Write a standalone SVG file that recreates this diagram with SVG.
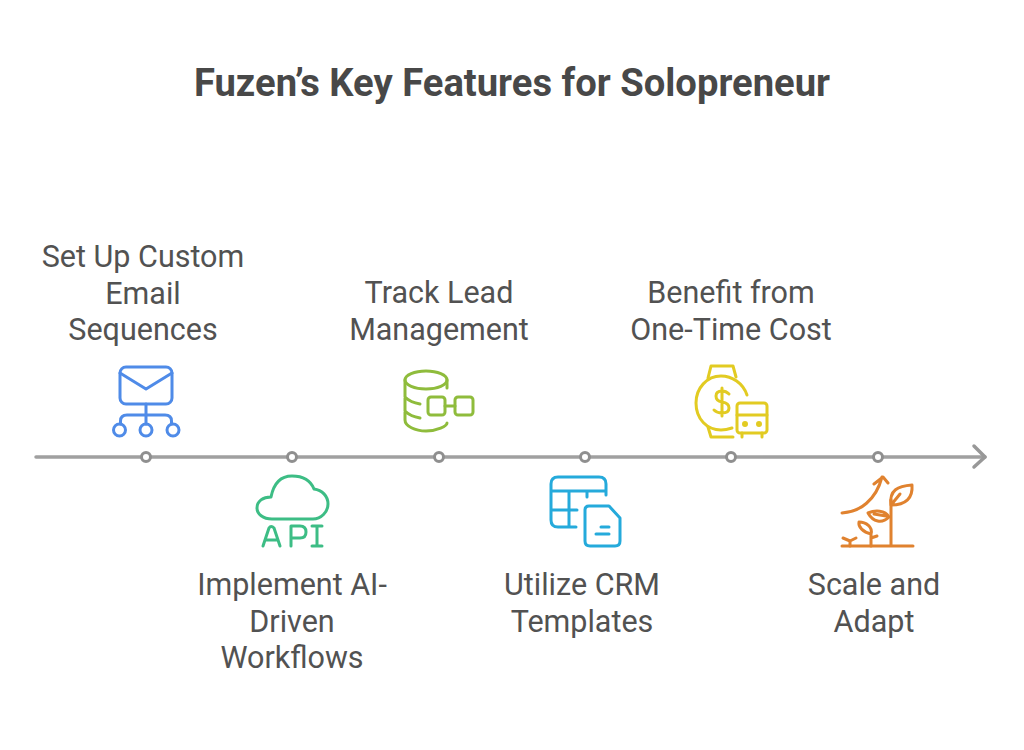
<svg xmlns="http://www.w3.org/2000/svg" width="1024" height="750" viewBox="0 0 1024 750">
<style>
text{font-family:Roboto,"Liberation Sans",sans-serif;fill:#525252;font-size:30.5px;text-anchor:middle}
.t{font-weight:700;font-size:38.2px;fill:#484848}
.i{fill:none;stroke-width:3;stroke-linecap:round;stroke-linejoin:round}
.d{fill:#fff;stroke:#8f8f8f;stroke-width:3}
</style>
<rect width="1024" height="750" fill="#fff"/>
<g id="title"><text class="t" x="512" y="96">Fuzen’s Key Features for Solopreneur</text></g>
<g id="connectors">
<path d="M36 457H985" fill="none" stroke="#a0a0a0" stroke-width="3.500" stroke-linecap="round"/>
<path d="M974 446L985 457L974 467" fill="none" stroke="#989898" stroke-width="3.500" stroke-linecap="round" stroke-linejoin="round"/>
<circle class="d" cx="146" cy="457" r="4.500"/><circle class="d" cx="292" cy="457" r="4.500"/><circle class="d" cx="439" cy="457" r="4.500"/><circle class="d" cx="585" cy="457" r="4.500"/><circle class="d" cx="731" cy="457" r="4.500"/><circle class="d" cx="878" cy="457" r="4.500"/>
</g>
<g id="node1">
<g class="i" stroke="#4f8be8"><rect x="120" y="367" width="52" height="37" rx="6"/><path d="M120 373L146 389L172 373M146 404V424M120.500 424V421Q120.500 415 127 415H165Q171.500 415 171.500 421V424"/><circle cx="119.500" cy="430" r="6"/><circle cx="146" cy="430" r="6"/><circle cx="173" cy="430" r="6"/></g>
<text x="143" y="267">Set Up Custom</text><text x="143" y="304">Email</text><text x="143" y="340">Sequences</text>
</g>
<g id="node2">
<g class="i" stroke="#3dbd85"><path d="M272 519H313C321 519 328 512 328 504C328 496 322 490 314 489C310 479 302 476 292 476C282 476 274 482 271 497C263 497 257 501 257 508C257 514 263 519 272 519Z"/><path d="M263 546L269 528Q271 525 274 528L280 546M265 540H278M291 546V526H300Q306 526 306 532Q306 538 300 538H291M312 526H322M317 526V546M312 546H322"/></g>
<text x="292" y="595">Implement AI-</text><text x="292" y="632">Driven</text><text x="292" y="668">Workflows</text>
</g>
<g id="node3">
<g class="i" stroke="#8fbc3c"><ellipse cx="426" cy="380" rx="21" ry="9"/><path d="M405 380V420C405 426 415 431 426 431C437 431 447 426 447 423M447 380V388M405 397C409 401 414 403 420 404M405 411C409 415 414 417 420 418"/><rect x="428" y="397" width="17" height="18" rx="3"/><rect x="455" y="397" width="18" height="18" rx="3"/><path d="M445 406H455"/></g>
<text x="439" y="303">Track Lead</text><text x="439" y="340">Management</text>
</g>
<g id="node4">
<g class="i" stroke="#25aadb"><path d="M576 527H558Q551 527 551 520V484Q551 477 558 477H599Q606 477 606 484V495M551 491H606M569 491V527M551 510H577M587 491V497"/><path d="M589 506H609L620 518V541Q620 546 615 546H590Q585 546 585 541V510Q585 506 589 506ZM601 527H609M596 534H609"/></g>
<text x="582" y="595">Utilize CRM</text><text x="582" y="632">Templates</text>
</g>
<g id="node5">
<g class="i" stroke="#e2cb22"><path d="M747 395C743 383 732 376 721 376C707 376 696 388 696 403C696 419 707 430 721 430C725 430 729 429 732 428"/><path d="M708 378L711 366H733L736 377M708 427L711 437H733"/><path d="M729 394Q726 391 722 391Q716 391 716 396Q716 401 722 402Q729 403 729 408Q729 413 722 413Q717 413 714 410M722 388V416"/><rect x="737" y="403" width="30" height="30" rx="3"/><path d="M737 415H767M742 433V437M762 433V437"/><circle cx="745" cy="424" r="1.500"/><circle cx="759" cy="424" r="1.500"/></g>
<text x="731" y="303">Benefit from</text><text x="731" y="340">One-Time Cost</text>
</g>
<g id="node6">
<g class="i" stroke="#e0822f"><path d="M842 513C860 512 876 500 882 477M874 484L883 477L888 483M842 546H913M891 546V500"/><path d="M891 505C889 490 898 486 912 485C913 498 906 505 891 505ZM891 505L900 494"/><path d="M889 517C885 510 875 510 868 513C873 522 882 524 889 517ZM874 514L886 516"/><path d="M871 534C863 532 858 527 859 522C866 522 873 527 871 534ZM871 534V546M871 538L877 536M843 538L850 541L856 538M850 541V546"/></g>
<text x="874" y="595">Scale and</text><text x="874" y="632">Adapt</text>
</g>
</svg>
